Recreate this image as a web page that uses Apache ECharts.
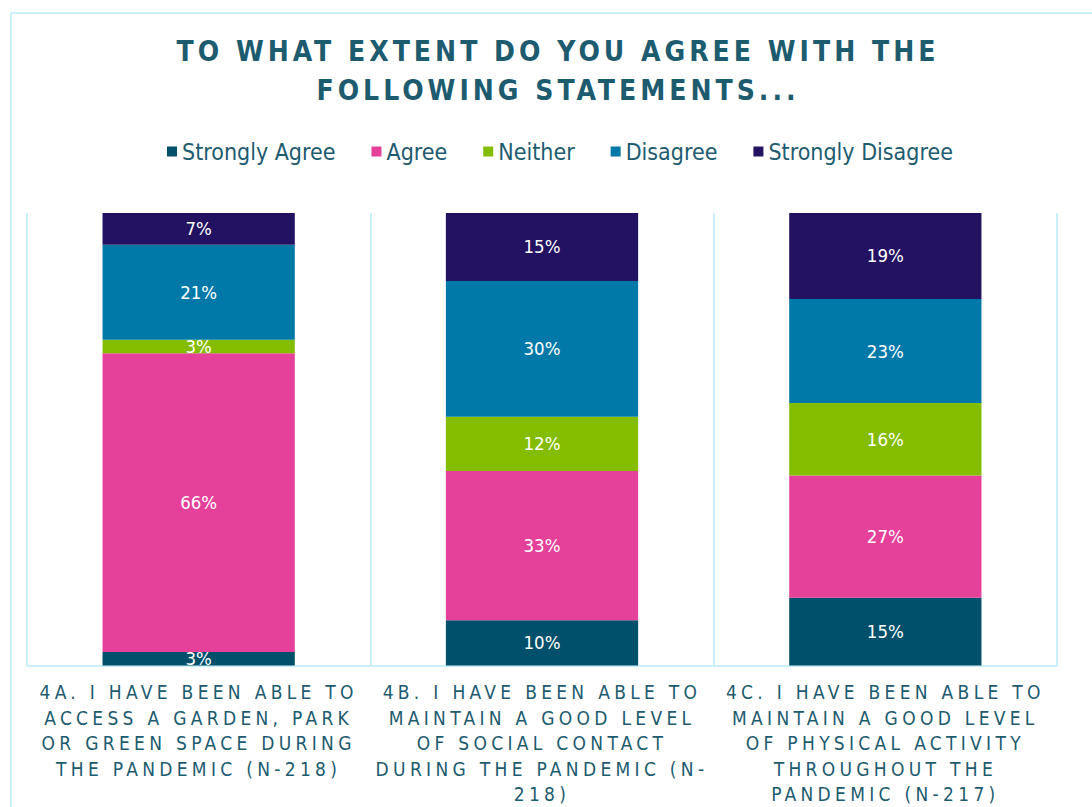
<!DOCTYPE html>
<html>
<head>
<meta charset="utf-8">
<title>To what extent do you agree with the following statements</title>
<script src="https://cdn.jsdelivr.net/npm/echarts@6/dist/echarts.min.js"></script>
<style>
  html, body { margin: 0; padding: 0; background: #ffffff; }
  #chart { width: 1092px; height: 807px; }
  /* wide tracking for the heading (28px) and the statement labels (19px) */
  #chart text[style*="28px"] { letter-spacing: 4px; }
  #chart text[style*="19px"] { letter-spacing: 4.3px; }
</style>
</head>
<body>
<div id="chart"></div>
<script>
// Survey statements (x-axis categories), wrapped as printed under each bar
const categories = [
  '4A. I HAVE BEEN ABLE TO\nACCESS A GARDEN, PARK\nOR GREEN SPACE DURING\nTHE PANDEMIC (N-218)',
  '4B. I HAVE BEEN ABLE TO\nMAINTAIN A GOOD LEVEL\nOF SOCIAL CONTACT\nDURING THE PANDEMIC (N-\n218)',
  '4C. I HAVE BEEN ABLE TO\nMAINTAIN A GOOD LEVEL\nOF PHYSICAL ACTIVITY\nTHROUGHOUT THE\nPANDEMIC (N-217)'
];

// Response shares in percent, one array per answer
const stronglyAgree    = [3, 10, 15];
const agree            = [66, 33, 27];
const neither          = [3, 12, 16];
const disagree         = [21, 30, 23];
const stronglyDisagree = [7, 15, 19];

const seriesNames  = ['Strongly Agree', 'Agree', 'Neither', 'Disagree', 'Strongly Disagree'];
const seriesValues = [stronglyAgree, agree, neither, disagree, stronglyDisagree];
const seriesColors = ['#00506b', '#e5409a', '#84bd00', '#0079a8', '#231261'];

const chartTitle = 'TO WHAT EXTENT DO YOU AGREE WITH THE\nFOLLOWING STATEMENTS...';

const textColor = '#1d5b6f';
const frameColor = '#c9eefc';
const narrowFont = "'DejaVu Sans Condensed', 'Liberation Sans Narrow', sans-serif";

const chart = echarts.init(document.getElementById('chart'), null, { renderer: 'svg' });

chart.setOption({
  backgroundColor: '#ffffff',
  animation: false,
  legend: {
    data: seriesNames,
    top: 135,
    left: 162,
    itemWidth: 10,
    itemHeight: 10,
    itemGap: 36,
    icon: 'rect',
    textStyle: {
      fontFamily: narrowFont,
      fontSize: 23,
      color: textColor
    }
  },
  graphic: [
    {
      // outer frame around the whole figure
      type: 'rect',
      silent: true,
      z: -1,
      shape: { x: 11, y: 13, width: 1100, height: 820 },
      style: { fill: 'none', stroke: frameColor, lineWidth: 2 }
    },
    {
      // two-line heading, centred over the legend
      type: 'text',
      silent: true,
      x: 558,
      y: 32,
      style: {
        text: chartTitle,
        textAlign: 'center',
        textVerticalAlign: 'top',
        fontFamily: narrowFont,
        fontWeight: 'bold',
        fontSize: 28,
        lineHeight: 39,
        fill: textColor
      }
    }
  ],
  grid: {
    left: 27,
    right: 35,
    top: 213,
    bottom: 139,
    containLabel: false
  },
  xAxis: {
    type: 'category',
    data: categories,
    axisLine: { show: true, lineStyle: { color: frameColor, width: 2 } },
    axisTick: { show: false },
    splitLine: { show: true, interval: 0, lineStyle: { color: frameColor, width: 2 } },
    axisLabel: {
      interval: 0,
      margin: 14,
      fontFamily: narrowFont,
      fontSize: 19,
      lineHeight: 25.5,
      color: textColor,
      align: 'center'
    }
  },
  yAxis: {
    type: 'value',
    min: 0,
    max: 100,
    show: false,
    splitLine: { show: false }
  },
  series: seriesNames.map((name, i) => ({
    name: name,
    type: 'bar',
    stack: 'total',
    barWidth: '56%',
    data: seriesValues[i],
    itemStyle: { color: seriesColors[i] },
    label: {
      show: true,
      position: 'inside',
      formatter: '{c}%',
      color: '#ffffff',
      fontFamily: narrowFont,
      fontSize: 18.5
    }
  }))
});
</script>
</body>
</html>
